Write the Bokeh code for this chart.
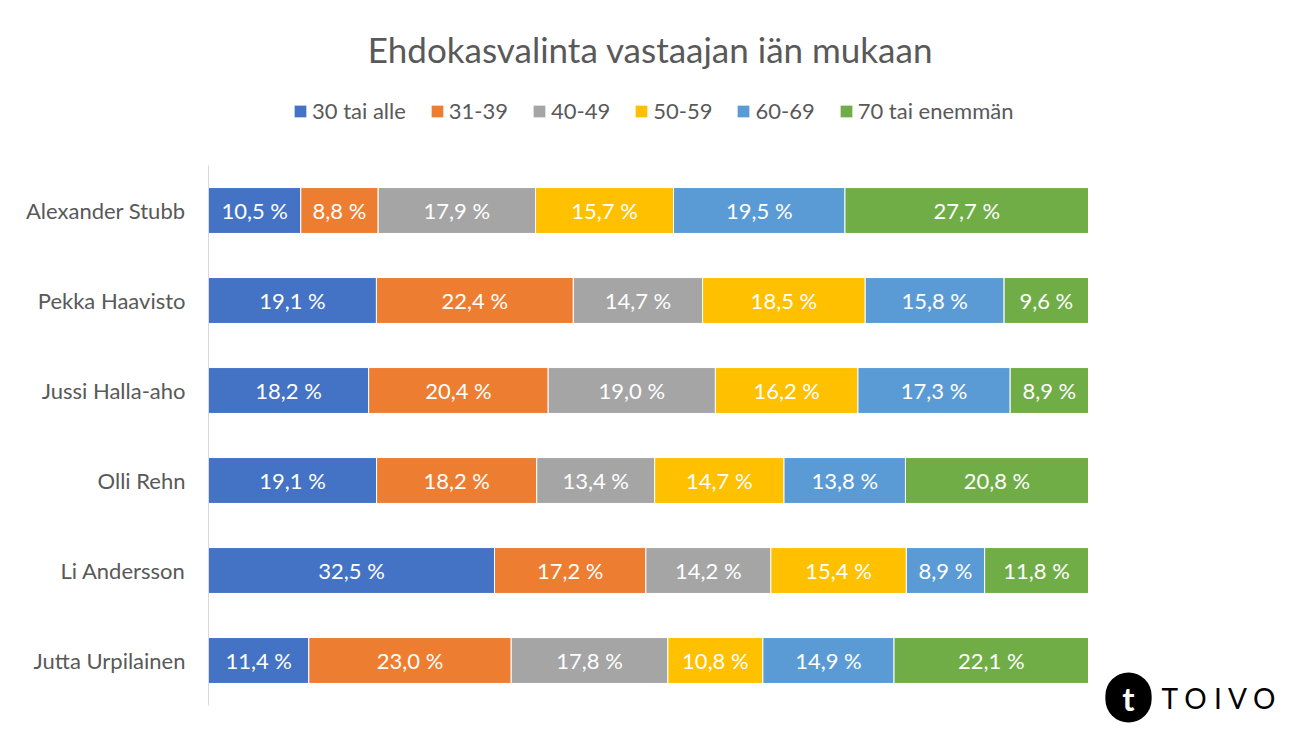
from bokeh.plotting import figure
from bokeh.models import ColumnDataSource, Range1d, Legend, LegendItem, Label, FixedTicker
from bokeh.core.properties import value
from bokeh.embed import file_html
from bokeh.resources import INLINE

candidates = ["Alexander Stubb", "Pekka Haavisto", "Jussi Halla-aho", "Olli Rehn", "Li Andersson", "Jutta Urpilainen"]
age_groups = ["30 tai alle", "31-39", "40-49", "50-59", "60-69", "70 tai enemmän"]
colors = ["#4472C4", "#ED7D31", "#A5A5A5", "#FFC000", "#5B9BD5", "#70AD47"]

g30 = [10.5, 19.1, 18.2, 19.1, 32.5, 11.4]
g31 = [8.8, 22.4, 20.4, 18.2, 17.2, 23.0]
g40 = [17.9, 14.7, 19.0, 13.4, 14.2, 17.8]
g50 = [15.7, 18.5, 16.2, 14.7, 15.4, 10.8]
g60 = [19.5, 15.8, 17.3, 13.8, 8.9, 14.9]
g70 = [27.7, 9.6, 8.9, 20.8, 11.8, 22.1]
series = [g30, g31, g40, g50, g60, g70]

FONT = "Lato"
GREY = "#595959"

W, H = 1285, 723
LEFT = 208          # pixels reserved for the category axis
BAR_W = 880         # pixel width of the 100 % bars
ROW = 90            # pixel height of one category row
BOTTOM_ROW_Y = 660  # pixel (from figure top) of last row centre

n = len(candidates)
ypos = [n - 1 - i for i in range(n)]
x_end = 100 * (W - LEFT) / BAR_W
y_start = -(H - BOTTOM_ROW_Y) / ROW
y_end = BOTTOM_ROW_Y / ROW

p = figure(width=W, height=H, output_backend="svg", toolbar_location=None,
           x_range=Range1d(0, x_end), y_range=Range1d(y_start, y_end),
           min_border_left=LEFT, min_border_right=0, min_border_top=0, min_border_bottom=0,
           outline_line_color=None, border_fill_color="white", background_fill_color="white")
p.xaxis.visible = False
p.xgrid.visible = False
p.ygrid.visible = False
yax = p.yaxis[0]
yax.ticker = FixedTicker(ticks=ypos)
yax.major_label_overrides = {y: c for y, c in zip(ypos, candidates)}
yax.bounds = (-0.5, n - 0.5)
yax.axis_line_color = "#D9D9D9"
yax.axis_line_width = 1
yax.major_tick_line_color = None
yax.minor_tick_line_color = None
yax.major_label_text_font = FONT
yax.major_label_text_font_size = "22px"
yax.major_label_text_color = GREY
yax.major_label_standoff = 17

totals = [sum(s[i] for s in series) for i in range(n)]
left = [0.0] * n
items = []
for name, s, c in zip(age_groups, series, colors):
    norm = [v / t * 100 for v, t in zip(s, totals)]
    right = [l + q for l, q in zip(left, norm)]
    mid = [(l + r) / 2 for l, r in zip(left, right)]
    labels = [f"{v:.1f}".replace(".", ",") + " %" for v in s]
    src = ColumnDataSource(dict(y=ypos, left=left, right=right, mid=mid, lab=labels))
    r = p.hbar(y="y", left="left", right="right", height=0.51, source=src,
               fill_color=c, line_color="white", line_width=1)
    p.text(x="mid", y="y", text="lab", source=src, text_align="center", text_baseline="middle",
           text_color="white", text_font=value(FONT), text_font_size="22px")
    items.append(LegendItem(label=name, renderers=[r]))
    left = right

legend = Legend(items=items, orientation="horizontal", location=(84, 599),
                label_text_font=FONT, label_text_font_size="22px", label_text_color=GREY,
                glyph_width=16, glyph_height=16, spacing=23, label_standoff=4,
                border_line_color=None, background_fill_alpha=0, padding=0, margin=0)
p.add_layout(legend, "center")

p.add_layout(Label(x=442, y=675, x_units="screen", y_units="screen",
                   text="Ehdokasvalinta vastaajan iän mukaan", text_align="center",
                   text_baseline="middle", text_font=FONT, text_font_size="35px",
                   text_color=GREY))

p.add_layout(Label(x=920, y=26, x_units="screen", y_units="screen", text="t",
                   text_align="center", text_baseline="middle", text_font=FONT,
                   text_font_size="33px", text_font_style="bold", text_color="white",
                   background_fill_color="black",
                   padding=dict(left=17, right=17, top=5, bottom=5), border_radius=24))
p.add_layout(Label(x=953, y=26, x_units="screen", y_units="screen", text="T O I V O",
                   text_align="left", text_baseline="middle", text_font=FONT,
                   text_font_size="28px", text_color="black"))

open("out.html", "w").write(file_html(p, INLINE))
